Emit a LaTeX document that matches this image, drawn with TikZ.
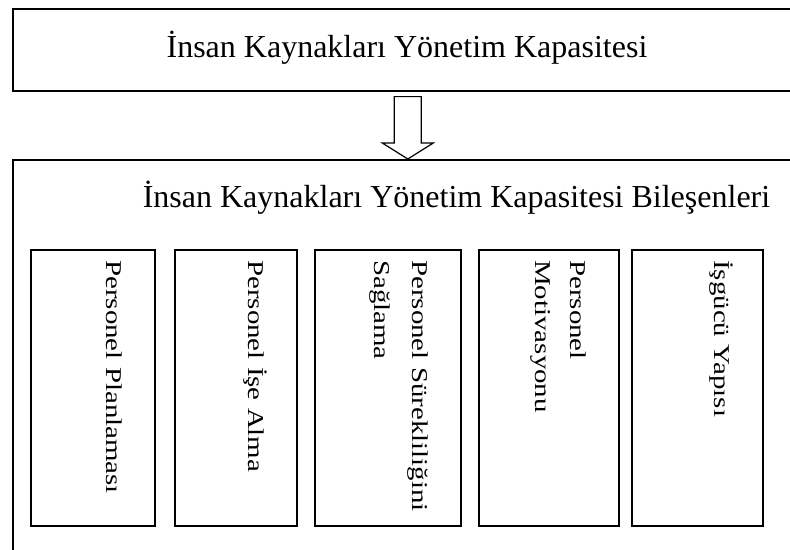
\documentclass[tikz,border=0pt]{standalone}
\usepackage{fontspec}
\usepackage{graphicx}
\setmainfont{Liberation Serif}
\usetikzlibrary{calc}
% vertical labels are set a little wider along the reading direction
\newcommand\widetext[1]{\scalebox{1.28}[1]{#1}}
\begin{document}
\begin{tikzpicture}[x=1pt,y=-1pt,
  frame/.style={draw, line width=1.6pt, rectangle, inner sep=0pt, anchor=north west},
  partbox/.style={draw, line width=1.5pt, rectangle, inner sep=0pt, anchor=north west, minimum height=276},
  heading/.style={font=\fontsize{32}{38}\selectfont, anchor=base, inner sep=0pt},
  vlabel/.style={rotate=-90, anchor=base west, inner sep=0pt, font=\fontsize{22.6}{35}\selectfont},
  hollow/.style={draw, line width=1.2pt, fill=white, line join=miter}]
\useasboundingbox (0,0) rectangle (790,549);
\clip (0,0) rectangle (790,549);

% upper frame
\node[frame, minimum width=790, minimum height=82] (cap) at (12,8) {};
\node[heading] (captitle) at (407,57) {İnsan Kaynakları Yönetim Kapasitesi};

% lower frame with its components
\node[frame, minimum width=790, minimum height=420] (parts) at (12,159) {};
\node[heading] (partstitle) at (456.5,207) {İnsan Kaynakları Yönetim Kapasitesi Bileşenleri};

\node[partbox, minimum width=124] (p1) at (30,249) {};
\node[partbox, minimum width=122] (p2) at (174,249) {};
\node[partbox, minimum width=146] (p3) at (314,249) {};
\node[partbox, minimum width=140] (p4) at (478,249) {};
\node[partbox, minimum width=131] (p5) at (631,249) {};

\node[vlabel] (t1) at ($(p1.north east)+(-49,11)$) {\widetext{Personel Planlaması}};
\node[vlabel] (t2) at ($(p2.north east)+(-49,11)$) {\widetext{Personel İşe Alma}};
\node[vlabel] (t3) at ($(p3.north east)+(-49,11)$) {\widetext{\begin{tabular}[t]{@{}l@{}}Personel Sürekliliğini\\[3pt]Sağlama\end{tabular}}};
\node[vlabel] (t4) at ($(p4.north east)+(-49,11)$) {\widetext{\begin{tabular}[t]{@{}l@{}}Personel\\Motivasyonu\end{tabular}}};
\node[vlabel] (t5) at ($(p5.north east)+(-49,11)$) {\widetext{İşgücü Yapısı}};

% hollow block arrow from the upper frame to the lower one
\coordinate (tail) at ($(cap.south)+(0,5)$);
\coordinate (tip) at (parts.north);
\draw[hollow] ($(tail)+(-13.5,0)$) -- ($(tail)+(13.5,0)$) -- ($(tip)+(13.5,-16)$)
  -- ($(tip)+(25.5,-16)$) -- (tip) -- ($(tip)+(-25.5,-16)$) -- ($(tip)+(-13.5,-16)$) -- cycle;
\end{tikzpicture}
\end{document}
